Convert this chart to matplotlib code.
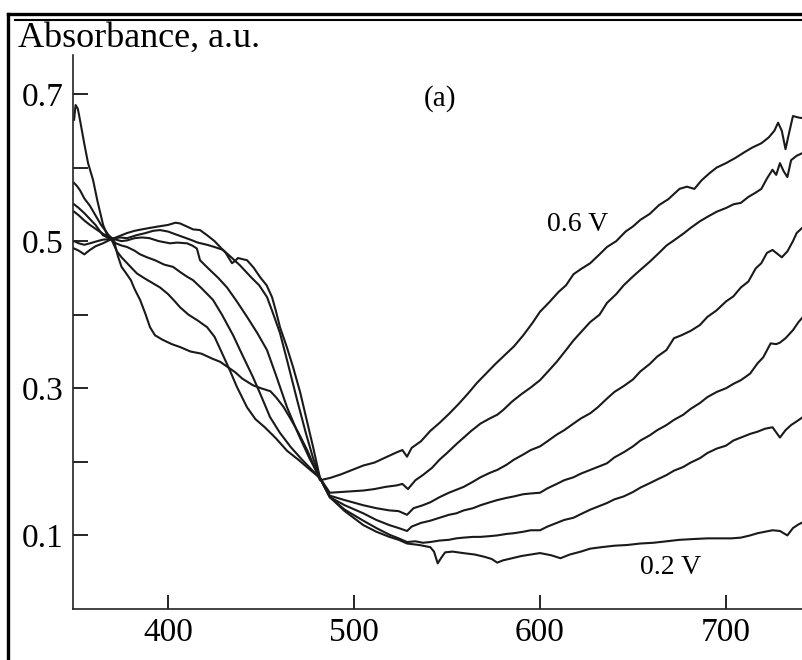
import matplotlib
matplotlib.use("Agg")
import matplotlib.pyplot as plt
from matplotlib.lines import Line2D

plt.rcParams['font.family'] = ['Liberation Serif', 'DejaVu Serif']

# Absorption spectra recorded at six electrode potentials (0.6 V ... 0.2 V)
wl_06 = [349.5, 350.3, 351.5, 353, 355, 357, 359.7, 362, 365.1, 367, 369, 371, 373, 375, 377,
         380, 382, 385, 388, 390.3, 393, 397, 402, 406.5, 412, 418, 424, 428, 432, 436, 440,
         445.7, 450, 455, 458, 462, 466, 470, 475, 481.7,
         487, 493, 499, 505, 511, 517, 523, 526, 528.5, 531, 536, 541, 546, 551, 556, 561,
         566, 571, 576, 581, 586, 591, 596, 600, 605, 610, 614, 618, 622, 627, 632, 636, 641,
         646, 650, 654, 659, 664, 669, 675, 679, 683, 687, 691, 695, 700, 705, 710, 714, 719,
         723, 726, 728, 730, 732, 734, 736, 739, 741.4]
ab_06 = [0.665, 0.685, 0.680, 0.660, 0.632, 0.606, 0.583, 0.555, 0.522, 0.510, 0.506, 0.500,
         0.480, 0.465, 0.458, 0.447, 0.435, 0.420, 0.400, 0.383, 0.372, 0.366, 0.360, 0.356,
         0.350, 0.347, 0.340, 0.336, 0.329, 0.322, 0.313, 0.304, 0.300, 0.296, 0.288, 0.275,
         0.258, 0.240, 0.215, 0.175,
         0.178, 0.183, 0.189, 0.195, 0.199, 0.206, 0.213, 0.216, 0.207, 0.219, 0.228, 0.242,
         0.253, 0.265, 0.278, 0.292, 0.307, 0.320, 0.333, 0.345, 0.357, 0.372, 0.389, 0.404,
         0.417, 0.431, 0.440, 0.455, 0.462, 0.470, 0.482, 0.492, 0.500, 0.513, 0.520, 0.529,
         0.537, 0.549, 0.557, 0.571, 0.574, 0.571, 0.583, 0.592, 0.600, 0.606, 0.613, 0.621,
         0.627, 0.633, 0.641, 0.650, 0.661, 0.650, 0.625, 0.648, 0.670, 0.668, 0.667]

wl_05 = [349.5, 351, 352.7, 355, 358, 361, 364, 367, 370, 372.5, 375, 378, 381, 383.3, 387,
         391, 395.7, 400, 403, 406.5, 411, 416, 421, 425, 429, 433.3, 437, 442.5, 447, 452,
         458, 464, 470, 476, 481.7,
         487, 493, 499, 505, 511, 517, 523, 526, 529, 533, 537, 542, 546, 550, 555, 559, 563,
         568, 573, 577, 580, 585, 590, 595, 600, 604, 609, 614, 618, 623, 627, 632, 636, 641,
         645, 650, 654, 659, 664, 668, 672, 677, 681, 686, 690, 695, 700, 704, 708, 712, 716,
         719, 722, 725, 727, 729, 731, 733, 735, 738, 741.4]
ab_05 = [0.579, 0.575, 0.569, 0.558, 0.548, 0.535, 0.522, 0.512, 0.500, 0.486, 0.478, 0.470,
         0.462, 0.456, 0.450, 0.444, 0.437, 0.428, 0.420, 0.410, 0.400, 0.392, 0.383, 0.370,
         0.348, 0.324, 0.302, 0.274, 0.258, 0.247, 0.232, 0.215, 0.203, 0.190, 0.178,
         0.158, 0.159, 0.160, 0.161, 0.163, 0.166, 0.168, 0.170, 0.163, 0.175, 0.182, 0.192,
         0.203, 0.212, 0.224, 0.233, 0.242, 0.252, 0.259, 0.264, 0.270, 0.282, 0.292, 0.301,
         0.311, 0.322, 0.336, 0.352, 0.365, 0.379, 0.390, 0.400, 0.416, 0.428, 0.440, 0.452,
         0.461, 0.472, 0.484, 0.494, 0.501, 0.510, 0.518, 0.527, 0.533, 0.540, 0.545, 0.550,
         0.552, 0.560, 0.566, 0.571, 0.585, 0.597, 0.590, 0.606, 0.595, 0.587, 0.610, 0.616,
         0.620]

wl_04 = [349.5, 352, 355, 358, 361, 365, 369, 372, 375, 378, 382, 385, 388.7, 393, 398, 402.7,
         406.5, 410, 413.4, 418, 424.2, 429, 435, 440, 445.7, 450, 454.8, 460, 466, 472, 477,
         481.7,
         487, 495, 505, 512, 519, 524, 528.5, 532, 537, 541, 546, 551, 555, 559, 564, 568, 573,
         577, 582, 586, 591, 595, 600, 604, 609, 613, 618, 622, 627, 631, 636, 640, 645, 650,
         654, 659, 663, 668, 672, 676, 681, 686, 690, 695, 700, 704, 708, 712, 716, 719, 722,
         725, 728, 730, 733, 736, 738, 741.4]
ab_04 = [0.550, 0.545, 0.538, 0.530, 0.522, 0.508, 0.503, 0.497, 0.494, 0.492, 0.487, 0.482,
         0.478, 0.474, 0.468, 0.465, 0.458, 0.452, 0.447, 0.436, 0.420, 0.400, 0.372, 0.345,
         0.315, 0.290, 0.261, 0.240, 0.220, 0.203, 0.190, 0.178,
         0.154, 0.148, 0.141, 0.137, 0.134, 0.133, 0.128, 0.137, 0.141, 0.145, 0.152, 0.158,
         0.162, 0.166, 0.173, 0.179, 0.185, 0.189, 0.196, 0.203, 0.210, 0.216, 0.221, 0.228,
         0.237, 0.243, 0.252, 0.259, 0.266, 0.274, 0.286, 0.295, 0.303, 0.312, 0.323, 0.333,
         0.343, 0.352, 0.368, 0.372, 0.378, 0.386, 0.397, 0.406, 0.418, 0.425, 0.437, 0.445,
         0.463, 0.470, 0.484, 0.488, 0.482, 0.478, 0.486, 0.500, 0.511, 0.519]

wl_03 = [349.5, 352, 355, 358, 362, 365, 368, 372, 375, 378, 382, 386, 390, 395, 401.1, 405,
         410.2, 413, 415.5, 417.2, 422, 427, 431.7, 437, 442.5, 448, 453.2, 458, 464, 470, 476,
         481.7,
         487, 495, 505, 512, 519, 524, 528.5, 531, 536, 541, 546, 551, 555, 559, 564, 568, 573,
         577, 582, 586, 591, 595, 600, 604, 609, 613, 618, 622, 627, 631, 636, 640, 645, 650,
         654, 659, 663, 668, 672, 677, 681, 686, 690, 695, 700, 704, 708, 713, 717, 720, 724,
         727, 729, 732, 736, 739, 741.4]
ab_03 = [0.540, 0.535, 0.528, 0.522, 0.515, 0.510, 0.506, 0.502, 0.500, 0.501, 0.504, 0.505,
         0.504, 0.500, 0.497, 0.498, 0.497, 0.494, 0.490, 0.474, 0.462, 0.450, 0.437, 0.418,
         0.397, 0.375, 0.352, 0.318, 0.274, 0.238, 0.205, 0.178,
         0.152, 0.141, 0.130, 0.121, 0.114, 0.110, 0.106, 0.112, 0.117, 0.120, 0.124, 0.128,
         0.130, 0.134, 0.137, 0.141, 0.145, 0.148, 0.151, 0.153, 0.156, 0.157, 0.158, 0.164,
         0.170, 0.175, 0.179, 0.184, 0.189, 0.193, 0.198, 0.206, 0.213, 0.221, 0.229, 0.236,
         0.243, 0.250, 0.257, 0.264, 0.272, 0.280, 0.288, 0.295, 0.300, 0.306, 0.311, 0.320,
         0.334, 0.342, 0.361, 0.360, 0.362, 0.368, 0.379, 0.390, 0.397]

wl_025 = [349.5, 352, 355, 358, 362, 365, 370, 374, 378, 383, 388, 392, 395.7, 400, 406.5, 412,
          416, 421, 425, 429.6, 434, 438.7, 445, 449, 453.2, 456, 460.2, 464, 469.4, 474, 478,
          481.7,
          487, 495, 505, 512, 519, 524, 528.5, 533, 537, 541, 546, 551, 555, 559, 564, 568, 573,
          577, 582, 586, 591, 595, 600, 604, 609, 613, 618, 622, 627, 631, 636, 640, 645, 650,
          654, 659, 663, 668, 672, 677, 681, 686, 690, 695, 700, 704, 708, 713, 717, 721, 725,
          727, 729, 732, 735, 738, 741.4]
ab_025 = [0.500, 0.497, 0.495, 0.497, 0.500, 0.502, 0.503, 0.505, 0.504, 0.508, 0.511, 0.514,
          0.515, 0.513, 0.507, 0.502, 0.498, 0.495, 0.492, 0.488, 0.478, 0.467, 0.450, 0.440,
          0.424, 0.405, 0.375, 0.338, 0.284, 0.240, 0.205, 0.178,
          0.152, 0.135, 0.120, 0.110, 0.101, 0.096, 0.091, 0.092, 0.090, 0.091, 0.093, 0.094,
          0.096, 0.097, 0.098, 0.098, 0.099, 0.100, 0.102, 0.103, 0.105, 0.107, 0.107, 0.112,
          0.117, 0.121, 0.124, 0.129, 0.135, 0.139, 0.144, 0.149, 0.153, 0.159, 0.165, 0.171,
          0.176, 0.182, 0.188, 0.193, 0.199, 0.205, 0.212, 0.218, 0.222, 0.229, 0.233, 0.238,
          0.241, 0.245, 0.247, 0.240, 0.233, 0.243, 0.250, 0.255, 0.261]

wl_02 = [349.5, 352, 355, 358, 361, 365, 369, 374, 378, 382, 386, 390.3, 395, 400, 404, 406.5,
         410, 413.4, 417.2, 421, 425, 428, 431, 434.4, 436, 437.6, 442.5, 446, 449.5, 453,
         455.9, 458, 460.2, 464, 467.2, 471, 473.7, 478, 481.7,
         487, 495, 505, 512, 519, 524, 528.5, 535, 541, 543, 545, 547, 549, 553, 558.6, 565,
         570, 574, 577, 580, 585, 590, 595, 600, 606, 611, 616, 622, 627, 633, 640, 647, 654,
         661, 668, 675, 682, 690, 697, 703, 708, 713, 717, 721, 725, 729, 733, 736, 739, 741.4]
ab_02 = [0.490, 0.487, 0.482, 0.488, 0.493, 0.497, 0.502, 0.507, 0.511, 0.514, 0.516, 0.518,
         0.520, 0.522, 0.525, 0.524, 0.520, 0.516, 0.515, 0.508, 0.500, 0.492, 0.484, 0.470,
         0.473, 0.477, 0.474, 0.464, 0.451, 0.440, 0.424, 0.405, 0.383, 0.355, 0.329, 0.295,
         0.266, 0.220, 0.178,
         0.152, 0.133, 0.114, 0.105, 0.098, 0.094, 0.089, 0.087, 0.084, 0.078, 0.062, 0.070,
         0.077, 0.078, 0.076, 0.074, 0.071, 0.068, 0.063, 0.066, 0.069, 0.072, 0.074, 0.076,
         0.073, 0.069, 0.074, 0.078, 0.082, 0.084, 0.086, 0.087, 0.089, 0.090, 0.092, 0.094,
         0.095, 0.096, 0.096, 0.096, 0.097, 0.100, 0.103, 0.105, 0.107, 0.106, 0.100, 0.110,
         0.115, 0.118]

series = [(wl_06, ab_06), (wl_05, ab_05), (wl_04, ab_04),
          (wl_03, ab_03), (wl_025, ab_025), (wl_02, ab_02)]

x_ticks = [400, 500, 600, 700]
y_ticks = [0.1, 0.2, 0.3, 0.4, 0.5, 0.6, 0.7]
y_ticklabels = ['0.1', '', '0.3', '', '0.5', '', '0.7']

fig = plt.figure(figsize=(8.03, 6.6), dpi=100)
ax = fig.add_axes([0.0909, 0.0773, 0.9091, 0.8394])

for wl, ab in series:
    ax.plot(wl, ab, color='#1a1a1a', lw=1.5, solid_joinstyle='round')

ax.set_xlim(348.9, 741.4)
ax.set_ylim(0.0, 0.753)

for side in ('top', 'right'):
    ax.spines[side].set_visible(False)
for side in ('left', 'bottom'):
    ax.spines[side].set_linewidth(1.2)
    ax.spines[side].set_color('#222222')

ax.set_xticks(x_ticks)
ax.set_xticklabels([str(t) for t in x_ticks])
ax.set_yticks(y_ticks)
ax.set_yticklabels(y_ticklabels)
ax.tick_params(axis='x', direction='in', length=10, width=1.2, pad=6, labelsize=24)
ax.tick_params(axis='y', direction='in', length=11, width=1.2, pad=7, labelsize=24)

ax.text(546, 0.694, '(a)', fontsize=21, ha='center', va='center')
ax.text(620, 0.522, '0.6 V', fontsize=20, ha='center', va='center')
ax.text(670, 0.056, '0.2 V', fontsize=20, ha='center', va='center')

fig.text(0.0224, 0.9288, 'Absorbance, a.u.', fontsize=26, ha='left', va='baseline')

# outer frame (left and top edges with a double rule on top)
fig.add_artist(Line2D([8 / 803, 8 / 803], [0, 1 - 14 / 660], transform=fig.transFigure,
                      color='black', lw=2.4))
fig.add_artist(Line2D([8 / 803, 1], [1 - 14 / 660, 1 - 14 / 660], transform=fig.transFigure,
                      color='black', lw=2.4))
fig.add_artist(Line2D([15 / 803, 1], [1 - 19.5 / 660, 1 - 19.5 / 660], transform=fig.transFigure,
                      color='black', lw=1.5))

fig.savefig('out.png', dpi=100)
